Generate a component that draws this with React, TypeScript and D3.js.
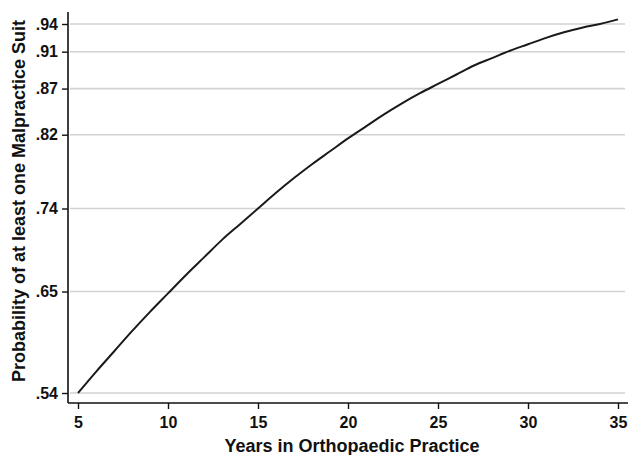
import React, { useEffect, useRef } from "react";
import * as d3 from "d3";

// DATA
const years = [5, 6, 7, 8, 9, 10, 11, 12, 13, 14, 15, 16, 17, 18, 19, 20, 21, 22, 23, 24, 25, 26, 27, 28, 29, 30, 31, 32, 33, 34, 35];
const probability = [
  0.54, 0.563, 0.585, 0.607, 0.628, 0.648, 0.668, 0.687, 0.706, 0.723, 0.74,
  0.757, 0.773, 0.788, 0.802, 0.816, 0.829, 0.842, 0.854, 0.865, 0.875, 0.885,
  0.895, 0.903, 0.911, 0.918, 0.925, 0.931, 0.936, 0.94, 0.945,
];
const yTicks = [0.54, 0.65, 0.74, 0.82, 0.87, 0.91, 0.94];
const xTicks = [5, 10, 15, 20, 25, 30, 35];
const xTitle = "Years in Orthopaedic Practice";
const yTitle = "Probability of at least one Malpractice Suit";

export default function App() {
  const ref = useRef<SVGSVGElement>(null);

  useEffect(() => {
    const svg = d3.select(ref.current);
    svg.selectAll("*").remove();

    const width = 630;
    const height = 455;
    const left = 68;
    const right = 628;
    const top = 12;
    const bottom = 403;
    const font = "'Liberation Sans', Arial, sans-serif";

    // SCALES
    const x = d3.scaleLinear().domain([5, 35]).range([78, 618]);
    const y = d3.scaleLinear().domain([0.54, 0.94]).range([393, 24]);

    svg.append("rect").attr("width", width).attr("height", height).attr("fill", "#fff");

    // Y GRID
    svg
      .append("g")
      .selectAll("line")
      .data(yTicks)
      .join("line")
      .attr("x1", left + 2)
      .attr("x2", right - 3)
      .attr("y1", (d) => y(d))
      .attr("y2", (d) => y(d))
      .attr("stroke", "#d2d2d2")
      .attr("stroke-width", 1.6);

    // X AXIS
    const xAxis = svg
      .append("g")
      .attr("transform", `translate(0,${bottom})`)
      .call(
        d3
          .axisBottom(x)
          .tickValues(xTicks)
          .tickSize(6)
          .tickSizeOuter(0)
          .tickPadding(8)
          .tickFormat((d) => String(d))
      );
    xAxis.select(".domain").remove();
    xAxis.selectAll(".tick line").attr("stroke", "#111").attr("stroke-width", 1.4);
    xAxis
      .selectAll(".tick text")
      .attr("fill", "#111")
      .attr("font-family", font)
      .attr("font-weight", "bold")
      .attr("font-size", 16);
    svg
      .append("line")
      .attr("x1", left)
      .attr("x2", right)
      .attr("y1", bottom)
      .attr("y2", bottom)
      .attr("stroke", "#111")
      .attr("stroke-width", 1.6);

    // Y AXIS
    const yAxis = svg
      .append("g")
      .attr("transform", `translate(${left},0)`)
      .call(
        d3
          .axisLeft(y)
          .tickValues(yTicks)
          .tickSize(6)
          .tickSizeOuter(0)
          .tickPadding(4)
          .tickFormat((d) => d3.format(".2f")(d as number).replace(/^0/, ""))
      );
    yAxis.select(".domain").remove();
    yAxis.selectAll(".tick line").attr("stroke", "#111").attr("stroke-width", 1.4);
    yAxis
      .selectAll(".tick text")
      .attr("fill", "#111")
      .attr("font-family", font)
      .attr("font-weight", "bold")
      .attr("font-size", 16);
    svg
      .append("line")
      .attr("x1", left)
      .attr("x2", left)
      .attr("y1", top)
      .attr("y2", bottom)
      .attr("stroke", "#111")
      .attr("stroke-width", 1.6);

    // TITLES
    svg
      .append("text")
      .attr("x", 352)
      .attr("y", 452)
      .attr("text-anchor", "middle")
      .attr("font-family", font)
      .attr("font-weight", "bold")
      .attr("font-size", 18)
      .attr("fill", "#111")
      .text(xTitle);
    svg
      .append("text")
      .attr("transform", `translate(25,201) rotate(-90)`)
      .attr("text-anchor", "middle")
      .attr("font-family", font)
      .attr("font-weight", "bold")
      .attr("font-size", 18)
      .attr("fill", "#111")
      .text(yTitle);

    // LINE
    const data = years.map((yr, i) => ({ yr, p: probability[i] }));
    const line = d3
      .line<{ yr: number; p: number }>()
      .x((d) => x(d.yr))
      .y((d) => y(d.p))
      .curve(d3.curveMonotoneX);
    svg
      .append("path")
      .datum(data)
      .attr("fill", "none")
      .attr("stroke", "#1a1a1a")
      .attr("stroke-width", 2)
      .attr("d", line);
  }, []);

  return (
    <div style={{ position: "absolute", left: 0, top: 0 }}>
      <svg ref={ref} width={630} height={455} style={{ display: "block" }} />
    </div>
  );
}
